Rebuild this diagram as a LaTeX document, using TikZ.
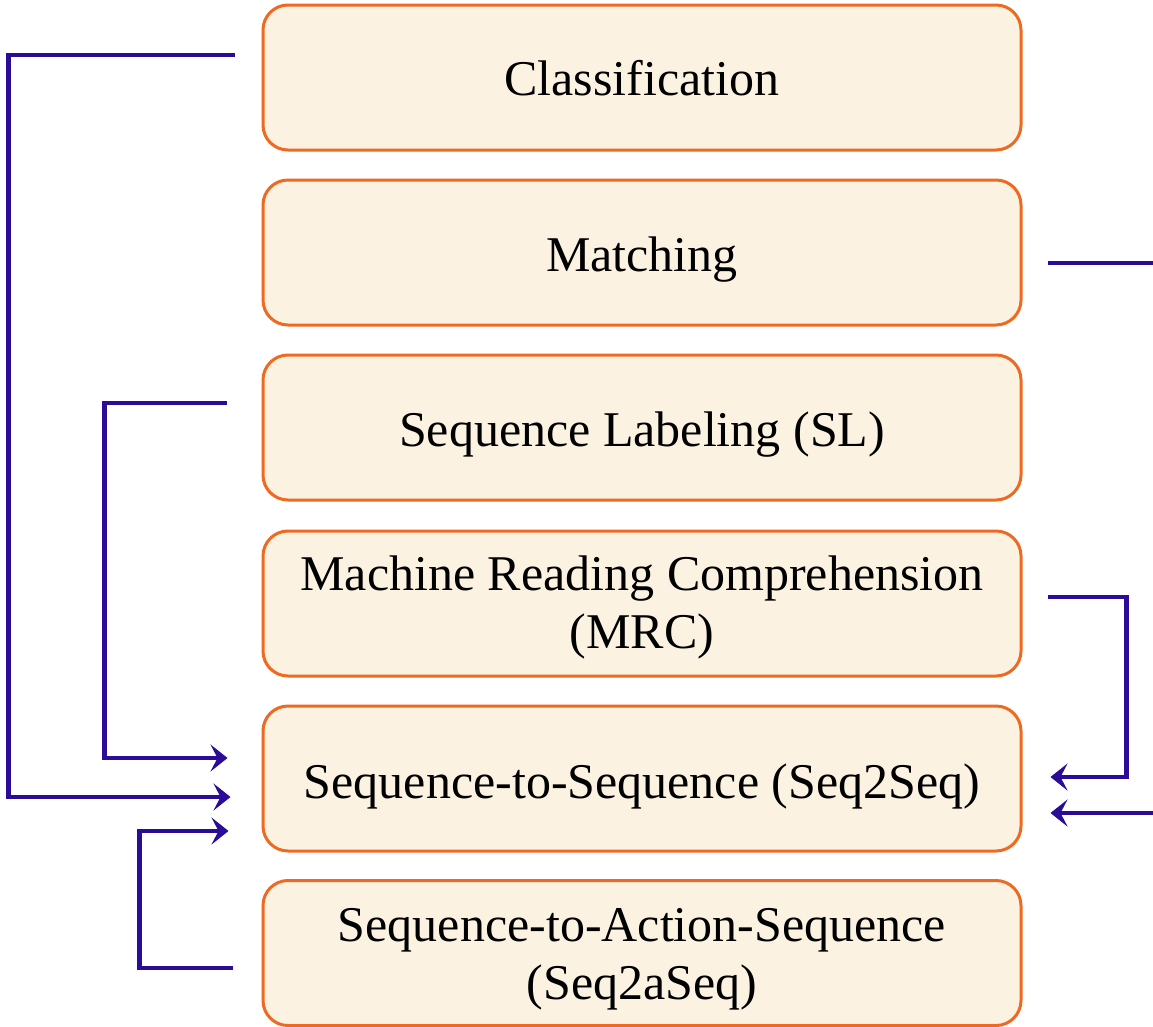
\documentclass[tikz,border=0pt]{standalone}
\usepackage{fontspec}
\setmainfont{Liberation Serif}
\usetikzlibrary{arrows.meta,calc}
\definecolor{boxline}{HTML}{EE6A22}
\definecolor{boxfill}{HTML}{FBF2E2}
\definecolor{linkcol}{HTML}{2B0C99}
% box text: first baseline raised by #1 from the box centre
\newcommand\boxtext[2]{\raisebox{#1}[0pt][0pt]{\begin{tabular}[t]{@{}c@{}}#2\end{tabular}}}
\tikzset{
  taskbox/.style={draw=boxline, fill=boxfill, line width=3pt,
    rounded corners=25pt, minimum width=758pt, minimum height=145pt,
    inner sep=0pt, font=\fontsize{50}{58}\selectfont},
  link/.style={draw=linkcol, line width=4.6pt},
  linkarrow/.style={link, -{Stealth[length=17pt,width=27pt,inset=7pt]}}
}
\begin{document}
\begin{tikzpicture}[x=1pt,y=-1pt]
  \useasboundingbox (0,0) rectangle (1153,1026);
  \clip (0,0) rectangle (1153,1026);

  % task boxes, stacked top to bottom
  \node[taskbox] (cls) at (642,77.5)  {\boxtext{-17.5pt}{Classification}};
  \node[taskbox] (mat) at (642,252.5) {\boxtext{-18.5pt}{Matching}};
  \node[taskbox] (sl)  at (642,427.5) {\boxtext{-18.5pt}{Sequence Labeling (SL)}};
  \node[taskbox] (mrc) at (642,603.5) {\boxtext{13.5pt}{Machine Reading Comprehension\\(MRC)}};
  \node[taskbox] (s2s) at (642,778.5) {\boxtext{-19.5pt}{Sequence-to-Sequence (Seq2Seq)}};
  \node[taskbox] (s2a) at (642,953)   {\boxtext{11.5pt}{Sequence-to-Action-Sequence\\(Seq2aSeq)}};

  % connector end points beside the boxes
  \coordinate (clsL)  at ($(cls.west)+(-27,-22.5)$);
  \coordinate (slL)   at ($(sl.west)+(-35,-24.5)$);
  \coordinate (s2aL)  at ($(s2a.west)+(-29,15)$);
  \coordinate (inA)   at ($(s2s.west)+(-34,-20.5)$);
  \coordinate (inB)   at ($(s2s.west)+(-31,18.5)$);
  \coordinate (inC)   at ($(s2s.west)+(-33,52.5)$);
  \coordinate (matR)  at ($(mat.east)+(25,10.5)$);
  \coordinate (matOut) at ($(mat.east)+(150,10.5)$);
  \coordinate (mrcR)  at ($(mrc.east)+(25,-6.5)$);
  \coordinate (inD)   at ($(s2s.east)+(28,-1.5)$);
  \coordinate (inE)   at ($(s2s.east)+(28,34.5)$);
  \coordinate (inEsrc) at ($(s2s.east)+(150,34.5)$);

  % left-hand connectors into Seq2Seq
  \draw[linkarrow] (clsL) -- ++(-226,0) |- (inB);
  \draw[linkarrow] (slL) -- ++(-122,0) |- (inA);
  \draw[linkarrow] (s2aL) -- ++(-93,0) |- (inC);

  % right-hand connectors
  \draw[link] (matR) -- (matOut);
  \draw[linkarrow] (mrcR) -- ++(79,0) |- (inD);
  \draw[linkarrow] (inEsrc) -- (inE);
\end{tikzpicture}
\end{document}
